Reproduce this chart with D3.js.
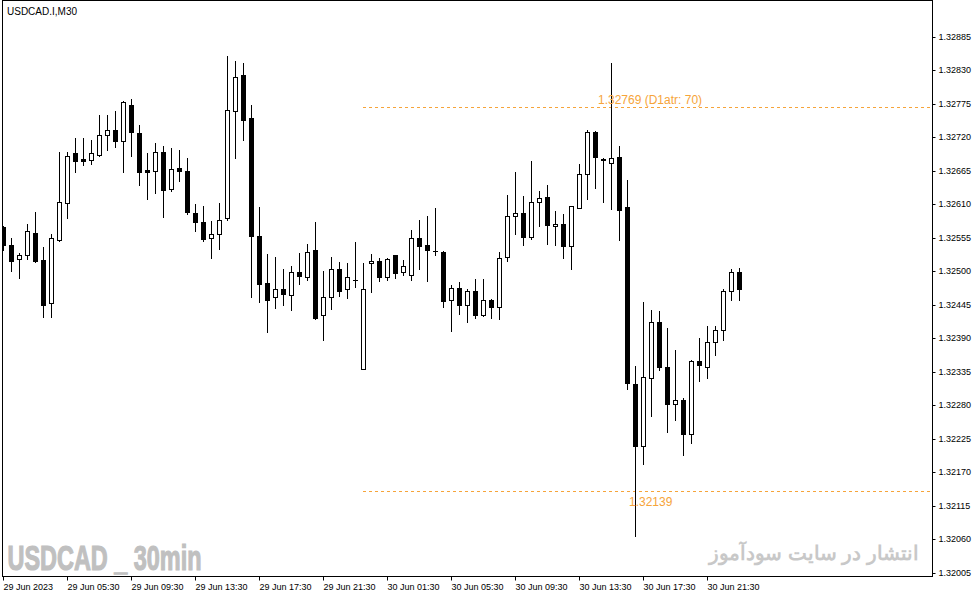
<!DOCTYPE html>
<html>
<head>
<meta charset="utf-8">
<script src="https://cdn.jsdelivr.net/npm/d3@7"></script>
<style>
  html, body { margin: 0; padding: 0; background: #fff; }
  svg { display: block; }
  text { font-family: "Liberation Sans", Arial, sans-serif; }
</style>
</head>
<body>
<svg id="chart" width="978" height="597"></svg>
<script>
// ==================== DATA ====================
const symbolTitle = 'USDCAD.I,M30';

// 30 minute bars, 29 Jun 2023 01:30 -> 30 Jun 2023 23:30
const open = [
  1.32572, 1.32542, 1.32519, 1.32527, 1.32563, 1.32518, 1.32448, 1.32551, 1.32612, 1.32694,
  1.32684, 1.32682, 1.32691, 1.32724, 1.32732, 1.32714, 1.32772, 1.32726, 1.32666, 1.32665,
  1.32696, 1.32635, 1.32669, 1.32665, 1.32596, 1.32580, 1.32554, 1.32560, 1.32587, 1.32762,
  1.32822, 1.32751, 1.32557, 1.32480, 1.32457, 1.32470, 1.32461, 1.32498, 1.32491, 1.32535,
  1.32428, 1.32457, 1.32504, 1.32470, 1.32486, 1.32340, 1.32513, 1.32517, 1.32490, 1.32526,
  1.32498, 1.32494, 1.32554, 1.32542, 1.32533, 1.32531, 1.32452, 1.32472, 1.32445, 1.32467,
  1.32428, 1.32453, 1.32441, 1.32523, 1.32590, 1.32596, 1.32556, 1.32613, 1.32621, 1.32574,
  1.32578, 1.32541, 1.32604, 1.32659, 1.32728, 1.32684, 1.32678, 1.32688, 1.32605, 1.32315,
  1.32212, 1.32325, 1.32416, 1.32342, 1.32281, 1.32288, 1.32233, 1.32352, 1.32343, 1.32383,
  1.32403, 1.32467, 1.32498
];
const high = [
  1.32574, 1.32554, 1.32529, 1.32577, 1.32597, 1.32539, 1.32561, 1.32695, 1.32695, 1.32718,
  1.32718, 1.32715, 1.32756, 1.32756, 1.32762, 1.32779, 1.32782, 1.32739, 1.32693, 1.32711,
  1.32706, 1.32702, 1.32698, 1.32686, 1.32610, 1.32607, 1.32582, 1.32611, 1.32853, 1.32845,
  1.32841, 1.32772, 1.32605, 1.32528, 1.32523, 1.32503, 1.32508, 1.32529, 1.32544, 1.32580,
  1.32500, 1.32523, 1.32515, 1.32513, 1.32548, 1.32513, 1.32528, 1.32522, 1.32522, 1.32527,
  1.32518, 1.32567, 1.32584, 1.32590, 1.32603, 1.32533, 1.32477, 1.32482, 1.32470, 1.32487,
  1.32487, 1.32454, 1.32531, 1.32625, 1.32662, 1.32623, 1.32680, 1.32631, 1.32642, 1.32598,
  1.32593, 1.32607, 1.32675, 1.32732, 1.32730, 1.32686, 1.32842, 1.32706, 1.32649, 1.32344,
  1.32449, 1.32436, 1.32434, 1.32406, 1.32370, 1.32292, 1.32354, 1.32390, 1.32410, 1.32410,
  1.32470, 1.32503, 1.32505
];
const low = [
  1.32535, 1.32500, 1.32488, 1.32520, 1.32515, 1.32424, 1.32425, 1.32549, 1.32587, 1.32663,
  1.32674, 1.32676, 1.32689, 1.32699, 1.32704, 1.32663, 1.32689, 1.32641, 1.32619, 1.32628,
  1.32589, 1.32632, 1.32648, 1.32594, 1.32566, 1.32550, 1.32522, 1.32536, 1.32584, 1.32686,
  1.32715, 1.32458, 1.32450, 1.32400, 1.32440, 1.32445, 1.32436, 1.32479, 1.32486, 1.32422,
  1.32387, 1.32438, 1.32459, 1.32456, 1.32474, 1.32339, 1.32466, 1.32484, 1.32486, 1.32489,
  1.32494, 1.32486, 1.32504, 1.32484, 1.32526, 1.32441, 1.32402, 1.32430, 1.32417, 1.32423,
  1.32427, 1.32423, 1.32421, 1.32517, 1.32560, 1.32543, 1.32553, 1.32574, 1.32545, 1.32543,
  1.32522, 1.32504, 1.32603, 1.32619, 1.32637, 1.32614, 1.32602, 1.32551, 1.32307, 1.32065,
  1.32184, 1.32262, 1.32337, 1.32236, 1.32255, 1.32198, 1.32217, 1.32320, 1.32325, 1.32363,
  1.32387, 1.32452, 1.32452
];
const close = [
  1.32543, 1.32517, 1.32526, 1.32565, 1.32517, 1.32445, 1.32554, 1.32614, 1.32689, 1.32681,
  1.32681, 1.32693, 1.32724, 1.32732, 1.32714, 1.32777, 1.32728, 1.32663, 1.32663, 1.32696,
  1.32633, 1.32667, 1.32665, 1.32597, 1.32581, 1.32552, 1.32560, 1.32583, 1.32764, 1.32818,
  1.32748, 1.32558, 1.32479, 1.32453, 1.32470, 1.32463, 1.32498, 1.32492, 1.32532, 1.32423,
  1.32457, 1.32504, 1.32468, 1.32490, 1.32486, 1.32470, 1.32517, 1.32491, 1.32520, 1.32497,
  1.32509, 1.32554, 1.32541, 1.32534, 1.32533, 1.32451, 1.32472, 1.32445, 1.32467, 1.32428,
  1.32453, 1.32441, 1.32521, 1.32590, 1.32596, 1.32556, 1.32614, 1.32620, 1.32576, 1.32578,
  1.32541, 1.32606, 1.32659, 1.32729, 1.32687, 1.32682, 1.32686, 1.32600, 1.32316, 1.32213,
  1.32326, 1.32416, 1.32343, 1.32281, 1.32288, 1.32233, 1.32352, 1.32345, 1.32383, 1.32403,
  1.32468, 1.32498, 1.32471
];

// time axis: a label every 8 bars
const timeTickBars = [0, 8, 16, 24, 32, 40, 48, 56, 64, 72, 80, 88];
const timeTickLabels = [
  '29 Jun 2023', '29 Jun 05:30', '29 Jun 09:30', '29 Jun 13:30', '29 Jun 17:30', '29 Jun 21:30',
  '30 Jun 01:30', '30 Jun 05:30', '30 Jun 09:30', '30 Jun 13:30', '30 Jun 17:30', '30 Jun 21:30'
];

// price axis
const priceTicks = [
  1.32885, 1.32830, 1.32775, 1.32720, 1.32665, 1.32610, 1.32555, 1.32500, 1.32445,
  1.32390, 1.32335, 1.32280, 1.32225, 1.32170, 1.32115, 1.32060, 1.32005
];

// daily ATR levels, drawn from the first bar of 30 Jun
const levelStartBar = 45;
const levelPrices = [1.32769, 1.32139];
const levelLabels = ['1.32769 (D1atr: 70)', '1.32139'];

const watermarkLeft = 'USDCAD _ 30min';
const watermarkRight = 'انتشار در سایت سودآموز';

// ==================== CHART ====================
const svg = d3.select('#chart');
const W = 978, H = 597;
const frame = { left: 2.5, top: 0.5, right: 932.5, bottom: 576.5 };
const orange = '#f6a43a';

const bars = open.map((o, i) => ({ i, o, h: high[i], l: low[i], c: close[i] }));

const x = d3.scaleLinear().domain([0, bars.length - 1]).range([3.3, 3.3 + 8 * (bars.length - 1)]);
const y = d3.scaleLinear().domain([1.32005, 1.32885]).range([572.6, 36.5]);
const px = (i) => Math.floor(x(i));
const py = (v) => Math.round(y(v));

svg.append('rect').attr('width', W).attr('height', H).attr('fill', '#fff');

svg.append('defs').append('clipPath').attr('id', 'plot-clip')
  .append('rect')
  .attr('x', frame.left + 0.5).attr('y', frame.top + 0.5)
  .attr('width', frame.right - frame.left - 1).attr('height', frame.bottom - frame.top - 1);

// watermarks (behind candles)
svg.append('text')
  .attr('x', 7.5).attr('y', 570)
  .attr('font-family', '"Liberation Sans Narrow", "DejaVu Sans Condensed", "Liberation Sans", sans-serif')
  .attr('font-weight', 'bold')
  .attr('font-size', 35)
  .attr('fill', '#c0c0c0')
  .attr('stroke', '#c0c0c0')
  .attr('stroke-width', 1.2)
  .attr('textLength', 194)
  .attr('lengthAdjust', 'spacingAndGlyphs')
  .text(watermarkLeft);

svg.append('text')
  .attr('x', 919).attr('y', 560)
  .attr('text-anchor', 'end')
  .attr('font-family', '"DejaVu Sans", sans-serif')
  .attr('font-weight', 'bold')
  .attr('font-size', 20)
  .attr('fill', '#c8c8c8')
  .text(watermarkRight);

const plot = svg.append('g').attr('clip-path', 'url(#plot-clip)');

// ATR level lines + labels
levelPrices.forEach((p) => {
  plot.append('line')
    .attr('x1', px(levelStartBar)).attr('x2', frame.right)
    .attr('y1', py(p) + 0.5).attr('y2', py(p) + 0.5)
    .attr('stroke', orange)
    .attr('stroke-width', 1)
    .attr('stroke-dasharray', '3,3');
});
svg.append('text')
  .attr('x', 598).attr('y', py(levelPrices[0]) - 3.5)
  .attr('font-size', 12).attr('fill', orange)
  .text(levelLabels[0]);
svg.append('text')
  .attr('x', 629).attr('y', py(levelPrices[1]) + 15)
  .attr('font-size', 12).attr('fill', orange)
  .text(levelLabels[1]);

// candles
const candle = plot.selectAll('g.candle')
  .data(bars)
  .join('g')
  .attr('class', 'candle');

candle.append('line')
  .attr('x1', (d) => px(d.i) + 0.5).attr('x2', (d) => px(d.i) + 0.5)
  .attr('y1', (d) => py(d.h)).attr('y2', (d) => py(d.l) + 1)
  .attr('stroke', '#000')
  .attr('stroke-width', 1);

candle.filter((d) => py(d.o) !== py(d.c))
  .append('rect')
  .attr('x', (d) => px(d.i) - 1.5)
  .attr('width', 4)
  .attr('y', (d) => Math.min(py(d.o), py(d.c)) + 0.5)
  .attr('height', (d) => Math.abs(py(d.o) - py(d.c)))
  .attr('fill', (d) => (d.c > d.o ? '#fff' : '#000'))
  .attr('stroke', '#000')
  .attr('stroke-width', 1);

candle.filter((d) => py(d.o) === py(d.c))
  .append('line')
  .attr('x1', (d) => px(d.i) - 2).attr('x2', (d) => px(d.i) + 3)
  .attr('y1', (d) => py(d.o) + 0.5).attr('y2', (d) => py(d.o) + 0.5)
  .attr('stroke', '#000')
  .attr('stroke-width', 1);

// frame
svg.append('rect')
  .attr('x', frame.left).attr('y', frame.top)
  .attr('width', frame.right - frame.left).attr('height', frame.bottom - frame.top)
  .attr('fill', 'none')
  .attr('stroke', '#000')
  .attr('stroke-width', 1);

// title
svg.append('text')
  .attr('x', 7).attr('y', 14.5)
  .attr('font-size', 10)
  .attr('fill', '#000')
  .text(symbolTitle);

// price axis
const yAxis = d3.axisRight(y)
  .tickValues(priceTicks)
  .tickSize(3)
  .tickPadding(3)
  .tickFormat(d3.format('.5f'));

const yAxisG = svg.append('g')
  .attr('transform', `translate(${frame.right},0)`)
  .call(yAxis);
yAxisG.select('.domain').remove();
yAxisG.selectAll('.tick').attr('transform', (d) => `translate(0,${py(d) + 0.5})`);
yAxisG.selectAll('text')
  .attr('font-family', '"Liberation Sans", Arial, sans-serif')
  .attr('font-size', 9)
  .attr('fill', '#000');

// time axis
const xAxis = d3.axisBottom(x)
  .tickValues(timeTickBars)
  .tickSize(4)
  .tickPadding(3)
  .tickFormat((d, k) => timeTickLabels[k]);

const xAxisG = svg.append('g')
  .attr('transform', `translate(0,${frame.bottom})`)
  .call(xAxis);
xAxisG.select('.domain').remove();
xAxisG.selectAll('.tick').attr('transform', (d) => `translate(${px(d) + 0.5},0)`);
xAxisG.selectAll('text')
  .attr('text-anchor', 'start')
  .attr('x', 0)
  .attr('font-family', '"Liberation Sans", Arial, sans-serif')
  .attr('font-size', 9)
  .attr('fill', '#000');
</script>
</body>
</html>
